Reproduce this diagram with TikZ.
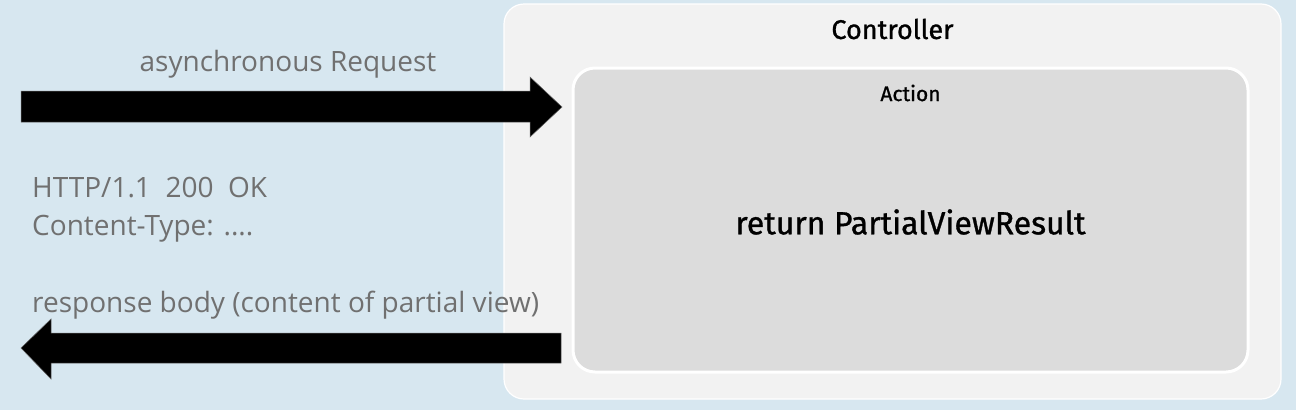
\documentclass[tikz,border=0pt]{standalone}
\usepackage{fontspec}
\setmainfont{Open Sans}
\newfontfamily\boxfont{Fira Sans}[FakeBold=1]
\definecolor{bgblue}{RGB}{215,231,240}
\definecolor{ctrlfill}{RGB}{242,242,242}
\definecolor{actfill}{RGB}{220,220,220}
\definecolor{graytext}{RGB}{112,112,112}
\begin{document}
\begin{tikzpicture}[x=1pt,y=-1pt,
  graylabel/.style={inner sep=0pt, text=graytext, font=\fontsize{28}{32}\selectfont},
  boxlabel/.style={inner sep=0pt, text=black},
  fatarrow/.style={fill=black, draw=black!60, line width=0.5pt}]
\fill[bgblue] (0,0) rectangle (1296,410);
\useasboundingbox (0,0) rectangle (1296,410);
% Controller
\draw[draw=white, line width=1.2pt, fill=ctrlfill, rounded corners=20pt] (504,4) rectangle (1281,399);
\node[boxlabel, font=\boxfont\fontsize{27}{30}\selectfont] (ctrl) at (892.5,29) {Controller};
% Action
\draw[draw=white, line width=3pt, fill=actfill, rounded corners=22pt] (573,68) rectangle (1248,372);
\node[boxlabel, font=\boxfont\fontsize{21}{24}\selectfont] (act) at (910.5,93) {Action};
\node[boxlabel, font=\boxfont\fontsize{32}{36}\selectfont] (ret) at (910.5,222) {return PartialViewResult};
% Request arrow
\node[graylabel, anchor=base] (req) at (288,71) {asynchronous Request};
\coordinate (rq0) at (21,107);
\coordinate (rq1) at (562,107);
\fill[fatarrow] (21,91) -- (530,91) -- (530,77) -- (rq1) -- (530,137) -- (530,122) -- (21,122) -- cycle;
% Response texts
\node[graylabel, anchor=base west] (http) at (32,197) {HTTP/1.1\ \ 200\ \ OK};
\node[graylabel, anchor=base west] (ctype) at (32,235) {Content-Type: ....};
\node[graylabel, anchor=base west] (body) at (32,312) {response body (content of partial view)};
% Response arrow
\coordinate (rs0) at (561,348);
\coordinate (rs1) at (21,348);
\fill[fatarrow] (561,333) -- (51,333) -- (51,319) -- (rs1) -- (51,379) -- (51,363) -- (561,363) -- cycle;
\end{tikzpicture}
\end{document}
